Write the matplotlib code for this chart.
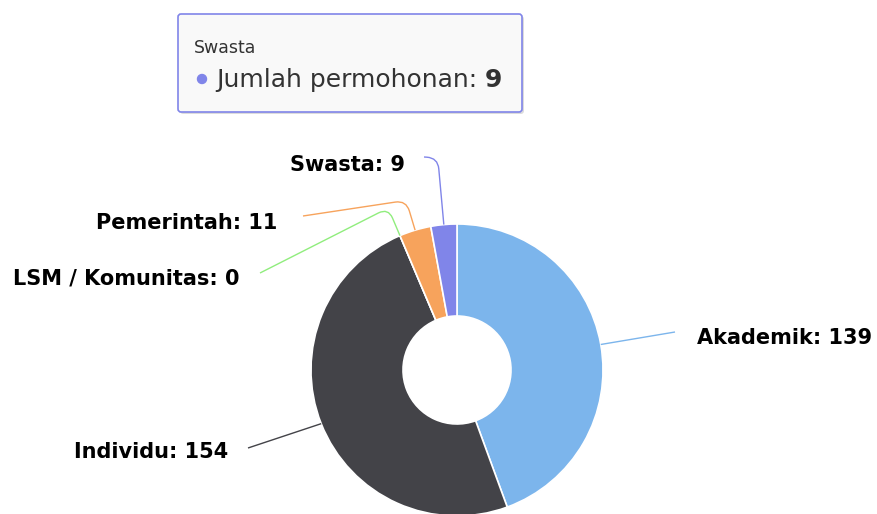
import numpy as np
import matplotlib
matplotlib.use('Agg')
import matplotlib.pyplot as plt
from matplotlib.path import Path
from matplotlib.patches import PathPatch, FancyBboxPatch, Circle

# data
kategori = ['Akademik', 'Individu', 'LSM / Komunitas', 'Pemerintah', 'Swasta']
jumlah = [139, 154, 0, 11, 9]
warna = ['#7cb5ec', '#434348', '#90ed7d', '#f7a35c', '#8085e9']
tooltip_nama = 'Swasta'
tooltip_label = 'Jumlah permohonan: '
tooltip_nilai = '9'

W, H = 878, 514
cx, cy, R, r_in = 457, 370, 146, 54

# label layout (pixel coords, y down)
label_xy = [(697, 338), (228, 452), (240, 278), (277, 223), (405, 165)]
label_ha = ['left', 'right', 'right', 'right', 'right']
anchor_xy = [(675, 332), (248, 448), (260, 273), (303, 216), (424, 157)]
elbow_r = [R, R, 176, 177, 213]

fig = plt.figure(figsize=(W / 100, H / 100), dpi=100)
ax = fig.add_axes([0, 0, 1, 1])

# y axis inverted -> counterclock in data = clockwise on screen
ax.pie(jumlah, colors=warna, startangle=-90, counterclock=True,
       radius=R, center=(cx, cy),
       wedgeprops=dict(width=R - r_in, edgecolor='white', linewidth=1.2))
ax.set_xlim(0, W)
ax.set_ylim(H, 0)
ax.axis('off')

total = sum(jumlah)
mulai = 0.0
for i, v in enumerate(jumlah):
    sudut = 360.0 * v / total
    tengah = np.radians(mulai + sudut / 2)
    mulai += sudut
    arah = np.array([np.sin(tengah), -np.cos(tengah)])
    E = np.array([cx, cy]) + R * arah
    K = np.array([cx, cy]) + elbow_r[i] * arah
    A = np.array(anchor_xy[i], dtype=float)
    rc = 11
    dE = np.linalg.norm(E - K)
    if dE < 1e-6:
        verts = [E, A]
        codes = [Path.MOVETO, Path.LINETO]
    else:
        P1 = K + (E - K) * min(1, rc / dE)
        P2 = K + (A - K) * min(1, rc / np.linalg.norm(A - K))
        verts = [E, P1, K, P2, A]
        codes = [Path.MOVETO, Path.LINETO, Path.CURVE3, Path.CURVE3, Path.LINETO]
    ax.add_patch(PathPatch(Path(verts, codes), fill=False, edgecolor=warna[i], lw=1))
    ax.text(label_xy[i][0], label_xy[i][1], '%s: %d' % (kategori[i], v),
            ha=label_ha[i], va='center', fontsize=15, fontweight='bold',
            color='black', family='DejaVu Sans')

# tooltip
bayang = FancyBboxPatch((180, 16), 344, 98, boxstyle='round,pad=0,rounding_size=3',
                        facecolor='#bbbbbb', edgecolor='none', alpha=0.5, zorder=5)
ax.add_patch(bayang)
kotak = FancyBboxPatch((178, 14), 344, 98, boxstyle='round,pad=0,rounding_size=3',
                       facecolor='#f9f9f9', edgecolor='#8085e9', lw=1.2, zorder=6)
ax.add_patch(kotak)
ax.text(194, 48, tooltip_nama, ha='left', va='center', fontsize=12.5,
        color='#333333', zorder=7)
ax.add_patch(Circle((202, 79), 4.5, color='#8085e9', zorder=7))
t = ax.text(216, 80, tooltip_label, ha='left', va='center', fontsize=18,
            color='#333333', zorder=7)
ax.annotate(tooltip_nilai, xy=(1, 0.5), xycoords=t, ha='left', va='center',
            fontsize=18, fontweight='bold', color='#333333', zorder=7)

fig.savefig('out.png', dpi=100)
